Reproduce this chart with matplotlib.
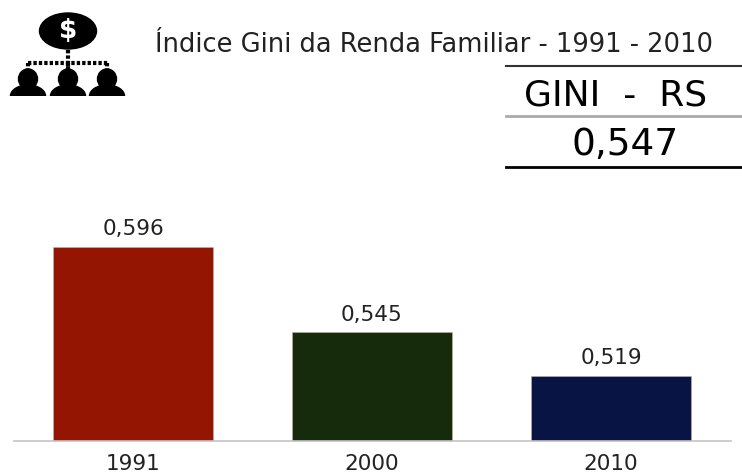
import matplotlib
matplotlib.use("Agg")
import matplotlib.pyplot as plt
from matplotlib.patches import Ellipse, Rectangle

# Data
years = ["1991", "2000", "2010"]
gini = [0.596, 0.545, 0.519]
labels = ["0,596", "0,545", "0,519"]
colors = ["#941502", "#162b0c", "#081443"]

title = "Índice Gini da Renda Familiar - 1991 - 2010"
region = "GINI  -  RS"
region_value = "0,547"

W, H = 742, 475
fig = plt.figure(figsize=(W / 100, H / 100), dpi=100, facecolor="white")

# Bars, baseline at y=441 px
ax = fig.add_axes([13.5 / W, (H - 441) / H, 717 / W, 241 / H])
ax.bar(years, gini, width=0.667, color=colors, edgecolor="#c9b0a8", linewidth=0.4)
ax.set_ylim(0.48, 0.6239)
ax.set_xlim(-0.5, 2.5)
for s in ["top", "left", "right"]:
    ax.spines[s].set_visible(False)
ax.spines["bottom"].set_color("#c4c4c4")
ax.spines["bottom"].set_linewidth(1.2)
ax.set_yticks([])
ax.tick_params(axis="x", length=0, pad=9.5, labelsize=15.5, labelcolor="#222222")
for i, v in enumerate(gini):
    ax.annotate(labels[i], (i, v), xytext=(0, 5.5), textcoords="offset points",
                ha="center", va="bottom", fontsize=15.5, color="#222222")

# Overlay in pixel coordinates for header and icon
ov = fig.add_axes([0, 0, 1, 1])
ov.set_xlim(0, W)
ov.set_ylim(H, 0)
ov.axis("off")
ov.patch.set_alpha(0)

ov.text(155, 45, title, fontsize=18.5, color="#222222", va="center", ha="left")

# Small table on the right
ov.plot([506, 742], [66, 66], color="#333333", lw=1.5)
ov.plot([506, 742], [116, 116], color="#aaaaaa", lw=2)
ov.plot([506, 742], [167, 167], color="black", lw=2)
ov.text(616, 95, region, fontsize=26, color="black", ha="center", va="center")
ov.text(625, 145, region_value, fontsize=27, color="black", ha="center", va="center")

# Icon
dots = (0, (0.8, 0.5))
ov.add_patch(Ellipse((68, 31), 57, 36, color="black"))
ov.text(68, 31, r"\$", fontsize=19, color="white", ha="center", va="center", fontweight="bold")
ov.plot([68, 68], [50, 77], color="black", lw=3, ls=dots)
ov.plot([28, 109], [63, 63], color="black", lw=3, ls=dots)
for x in [28, 68, 107]:
    ov.plot([x, x], [63, 70], color="black", lw=3, ls=dots)
    ov.add_patch(Ellipse((x, 79), 19, 20, color="black"))
    body = Ellipse((x, 96), 35, 22, color="black")
    ov.add_patch(body)
    body.set_clip_path(Rectangle((x - 20, 80), 40, 16, transform=ov.transData))

fig.savefig("out.png", dpi=100, facecolor="white")
